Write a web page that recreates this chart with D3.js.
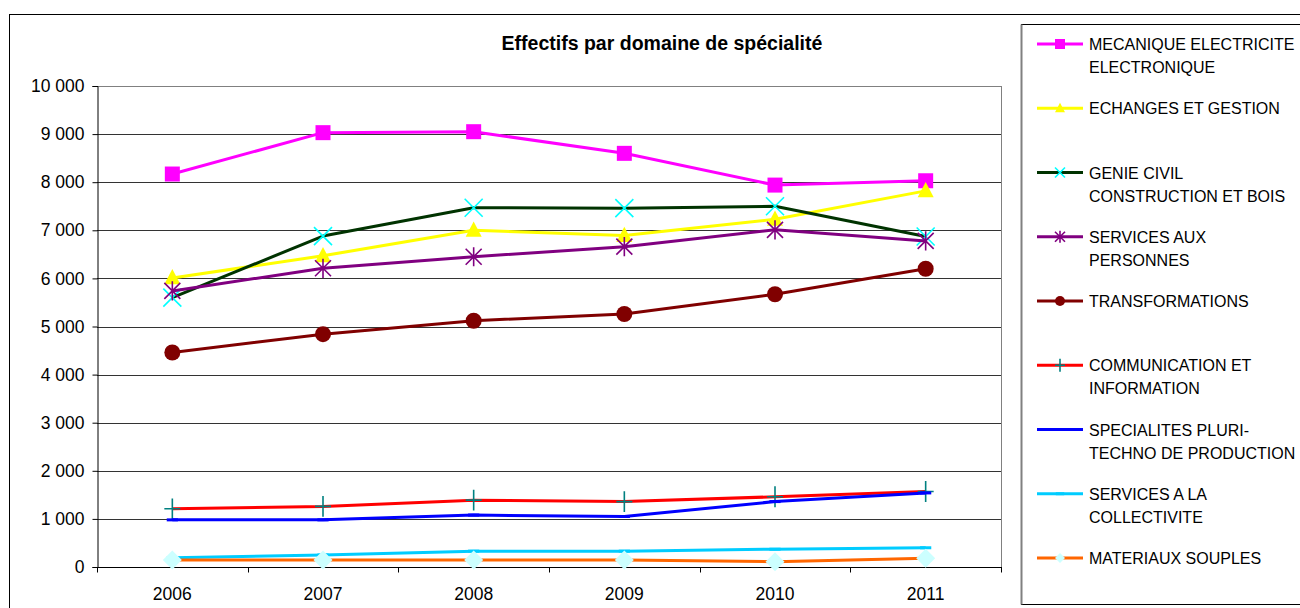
<!DOCTYPE html>
<html>
<head>
<meta charset="utf-8">
<script src="https://cdn.jsdelivr.net/npm/d3@7"></script>
<style>
  body { margin: 0; background: #fff; }
  svg { display: block; font-family: "Liberation Sans", Arial, sans-serif; }
</style>
</head>
<body>
<div id="chart"></div>
<script>
// data
const years = ["2006", "2007", "2008", "2009", "2010", "2011"];
const yTicks = [0, 1000, 2000, 3000, 4000, 5000, 6000, 7000, 8000, 9000, 10000];

const mecanique = [8170, 9030, 9050, 8600, 7940, 8030];
const echanges = [6010, 6470, 7000, 6890, 7230, 7820];
const genieCivil = [5600, 6880, 7470, 7460, 7500, 6870];
const servicesPersonnes = [5740, 6210, 6450, 6660, 7010, 6780];
const transformations = [4460, 4840, 5120, 5260, 5670, 6200];
const communication = [1210, 1260, 1390, 1360, 1460, 1570];
const specialites = [980, 980, 1080, 1050, 1360, 1540];
const servicesCollectivite = [190, 250, 330, 330, 370, 400];
const materiaux = [145, 145, 145, 145, 110, 180];

const seriesNames = [
    ["MECANIQUE ELECTRICITE", "ELECTRONIQUE"],
    ["ECHANGES ET GESTION"],
    ["GENIE CIVIL", "CONSTRUCTION ET BOIS"],
    ["SERVICES AUX", "PERSONNES"],
    ["TRANSFORMATIONS"],
    ["COMMUNICATION ET", "INFORMATION"],
    ["SPECIALITES PLURI-", "TECHNO DE PRODUCTION"],
    ["SERVICES A LA", "COLLECTIVITE"],
    ["MATERIAUX SOUPLES"]
];
const seriesValues = [mecanique, echanges, genieCivil, servicesPersonnes, transformations,
    communication, specialites, servicesCollectivite, materiaux];

// line colour, marker shape, marker colour
const styles = [
    {line: "#FF00FF", marker: "square", mcolor: "#FF00FF"},
    {line: "#FFFF00", marker: "triangle", mcolor: "#FFFF00"},
    {line: "#003300", marker: "x", mcolor: "#00FFFF"},
    {line: "#800080", marker: "asterisk", mcolor: "#800080"},
    {line: "#800000", marker: "circle", mcolor: "#800000"},
    {line: "#FF0000", marker: "plus", mcolor: "#008080"},
    {line: "#0000FF", marker: "dash", mcolor: "#0000FF"},
    {line: "#00CCFF", marker: "dash", mcolor: "#00CCFF"},
    {line: "#FF6600", marker: "diamond", mcolor: "#CCFFFF"}
];

const W = 1300, H = 608;
const plot = {left: 97, right: 1001, top: 86, bottom: 567};

const svg = d3.select("#chart").append("svg")
    .attr("width", W)
    .attr("height", H);

// outer chart frame (runs off the right and bottom edges)
svg.append("rect")
    .attr("x", 9.5).attr("y", 14.5)
    .attr("width", 1400).attr("height", 700)
    .attr("fill", "none")
    .attr("stroke", "#000");

// scales
const x = d3.scaleBand()
    .domain(years)
    .range([plot.left, plot.right]);

const y = d3.scaleLinear()
    .domain([0, 10000])
    .range([plot.bottom, plot.top]);

const locale = d3.formatLocale({thousands: " ", grouping: [3], decimal: ",", currency: ["", ""]});
const fmt = locale.format(",d");

// gridlines
svg.append("g")
    .selectAll("line")
    .data(yTicks.filter(d => d > 0))
    .join("line")
    .attr("x1", plot.left).attr("x2", plot.right)
    .attr("y1", d => Math.round(y(d)) + 0.5)
    .attr("y2", d => Math.round(y(d)) + 0.5)
    .attr("stroke", d => d === 10000 ? "#808080" : "#333")
    .attr("stroke-width", 1);

// right border of plot area
svg.append("line")
    .attr("x1", plot.right + 0.5).attr("x2", plot.right + 0.5)
    .attr("y1", plot.top).attr("y2", plot.bottom)
    .attr("stroke", "#808080");

// y axis
const yAxis = svg.append("g")
    .attr("transform", `translate(${plot.left + 0.5},0)`)
    .call(d3.axisLeft(y).tickValues(yTicks).tickFormat(fmt).tickSize(5).tickPadding(8));
yAxis.select(".domain").attr("stroke", "#000");
yAxis.selectAll(".tick line").attr("stroke", "#000");
yAxis.selectAll("text")
    .attr("font-family", "Liberation Sans, Arial, sans-serif")
    .attr("font-size", "17.5px")
    .attr("fill", "#000");

// x axis: ticks on band boundaries, labels centred
const xAxisG = svg.append("g")
    .attr("transform", `translate(0,${plot.bottom + 0.5})`);
xAxisG.append("line")
    .attr("x1", plot.left).attr("x2", plot.right + 1)
    .attr("stroke", "#000");
const bounds = years.map(d => x(d)).concat([plot.right]);
xAxisG.selectAll("line.tk")
    .data(bounds)
    .join("line")
    .attr("class", "tk")
    .attr("x1", d => Math.round(d) + 0.5).attr("x2", d => Math.round(d) + 0.5)
    .attr("y1", 0).attr("y2", 5)
    .attr("stroke", "#000");
xAxisG.selectAll("text")
    .data(years)
    .join("text")
    .attr("x", d => x(d) + x.bandwidth() / 2)
    .attr("y", 32)
    .attr("text-anchor", "middle")
    .attr("font-size", "17.5px")
    .attr("fill", "#000")
    .text(d => d);

// marker drawing
function markerPath(kind, s) {
    if (kind === "square") return `M${-s},${-s}h${2 * s}v${2 * s}h${-2 * s}Z`;
    if (kind === "triangle") return `M0,${-s * 1.1}L${s},${s * 0.8}L${-s},${s * 0.8}Z`;
    if (kind === "x") return `M${-s},${-s}L${s},${s}M${s},${-s}L${-s},${s}`;
    if (kind === "asterisk") return `M${-s},${-s}L${s},${s}M${s},${-s}L${-s},${s}M0,${-s * 1.2}V${s * 1.2}`;
    if (kind === "plus") return `M${-s},0H${s}M0,${-s * 1.3}V${s * 1.3}`;
    if (kind === "dash") return `M${-s * 0.7},0H${s * 0.7}`;
    if (kind === "diamond") return `M0,${-s}L${s},0L0,${s}L${-s},0Z`;
    return "";
}
const filled = {square: true, triangle: true, diamond: true, circle: true};

function drawMarker(g, st, s) {
    if (st.marker === "circle") {
        g.append("circle").attr("r", s).attr("fill", st.mcolor);
    } else if (filled[st.marker]) {
        g.append("path").attr("d", markerPath(st.marker, s)).attr("fill", st.mcolor);
    } else {
        g.append("path").attr("d", markerPath(st.marker, s))
            .attr("fill", "none")
            .attr("stroke", st.mcolor)
            .attr("stroke-width", st.marker === "dash" ? 3 : 1.6);
    }
}

const line = d3.line()
    .x((d, i) => x(years[i]) + x.bandwidth() / 2)
    .y(d => y(d));

const markerSize = {square: 7.5, triangle: 8, x: 9, asterisk: 8, circle: 8, plus: 8, dash: 8, diamond: 9.5};

// series
seriesValues.forEach((vals, k) => {
    const st = styles[k];
    const g = svg.append("g");
    g.append("path")
        .datum(vals)
        .attr("d", line)
        .attr("fill", "none")
        .attr("stroke", st.line)
        .attr("stroke-width", 3)
        .attr("stroke-linejoin", "round");
    vals.forEach((v, i) => {
        const mg = g.append("g")
            .attr("transform", `translate(${x(years[i]) + x.bandwidth() / 2},${y(v)})`);
        drawMarker(mg, st, markerSize[st.marker]);
    });
});

// title
svg.append("text")
    .attr("x", 662)
    .attr("y", 50)
    .attr("text-anchor", "middle")
    .attr("font-weight", "bold")
    .attr("font-size", "19.5px")
    .attr("fill", "#000")
    .text("Effectifs par domaine de spécialité");

// legend
const legend = svg.append("g");
legend.append("rect")
    .attr("x", 1021.5).attr("y", 24.5)
    .attr("width", 400).attr("height", 580)
    .attr("fill", "#fff")
    .attr("stroke", "#000");
legend.append("line")
    .attr("x1", 1021.5).attr("x2", 1021.5)
    .attr("y1", 24.5).attr("y2", 604.5)
    .attr("stroke", "#808080").attr("stroke-width", 2);

seriesNames.forEach((lines, k) => {
    const st = styles[k];
    const cy = 44 + 64.25 * k;
    const item = legend.append("g");
    item.append("line")
        .attr("x1", 1037).attr("x2", 1083)
        .attr("y1", cy).attr("y2", cy)
        .attr("stroke", st.line)
        .attr("stroke-width", 3);
    const mg = item.append("g").attr("transform", `translate(1060,${cy})`);
    drawMarker(mg, st, st.marker === "dash" ? 6 : 5);
    lines.forEach((t, j) => {
        item.append("text")
            .attr("x", 1089)
            .attr("y", cy + 6 + j * 23)
            .attr("font-size", "16px")
            .attr("fill", "#000")
            .text(t);
    });
});
</script>
</body>
</html>
